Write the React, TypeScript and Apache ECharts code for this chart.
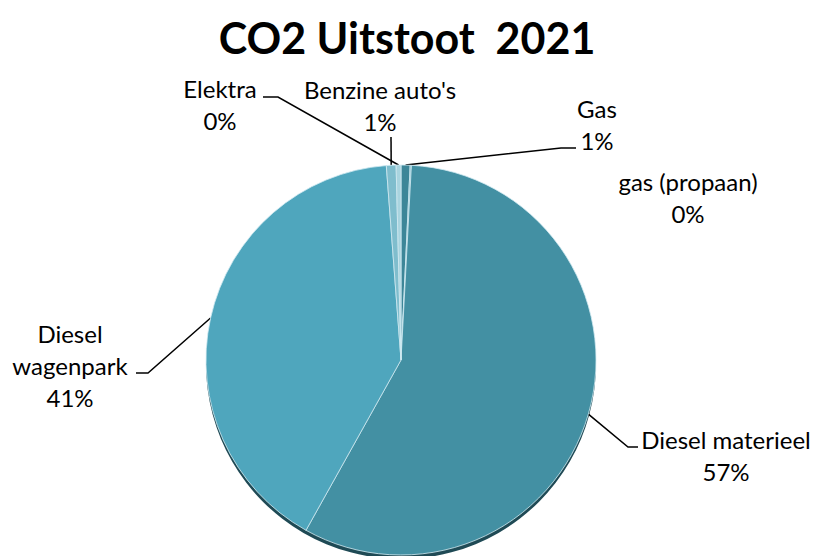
import React, { useEffect, useRef } from "react";
import * as echarts from "echarts";

const titleText = "CO2 Uitstoot  2021";
const categories = ["Gas", "gas (propaan)", "Diesel materieel", "Diesel wagenpark", "Benzine auto's", "Elektra"];
const labelTexts = ["Gas", "gas (propaan)", "Diesel materieel", "Diesel\nwagenpark", "Benzine auto's", "Elektra"];
const values = [0.75, 0.1, 57.25, 40.7, 0.8, 0.4];
const colors = ["#3d8698", "#5fa9bc", "#4390a3", "#4fa6bd", "#7fbdcd", "#a9d4df"];

// label anchor (center x, center y) and elbow points of leader lines
const labelLayouts: Record<number, { x: number; y: number; pts: number[][] | null }> = {
  0: { x: 597, y: 124, pts: [[561, 148], [576, 148]] },
  1: { x: 688, y: 197, pts: null },
  2: { x: 726, y: 455, pts: [[628, 447], [638, 447]] },
  3: { x: 70, y: 365, pts: [[148, 373], [136, 373]] },
  4: { x: 380, y: 105, pts: [[391, 137], [391, 137]] },
  5: { x: 220, y: 104, pts: [[278, 97], [263, 97]] },
};

const FONT = "Lato";

export default function App() {
  const ref = useRef<HTMLDivElement>(null);
  useEffect(() => {
    if (!ref.current) return;
    const chart = echarts.init(ref.current, null, { renderer: "svg" });
    const data = categories.map((c, i) => ({
      name: c,
      value: values[i],
      itemStyle: { color: colors[i] },
      labelLine: { show: labelLayouts[i].pts !== null },
    }));
    chart.setOption({
      animation: false,
      backgroundColor: "#ffffff",
      title: {
        text: titleText,
        left: "center",
        top: 11,
        textStyle: { fontFamily: FONT, fontSize: 43, fontWeight: "bold", color: "#000000" },
      },
      series: [
        {
          type: "pie",
          silent: true,
          center: [401, 364],
          radius: [0, 195],
          startAngle: 90,
          clockwise: true,
          label: { show: false },
          labelLine: { show: false },
          itemStyle: { color: "#1f4a55" },
          data: [{ name: "rim", value: 1 }],
          z: 1,
        },
        {
          type: "pie",
          center: [401, 360],
          radius: [0, 195],
          startAngle: 90,
          clockwise: true,
          percentPrecision: 0,
          avoidLabelOverlap: false,
          itemStyle: { borderColor: "rgba(210,235,242,0.8)", borderWidth: 1 },
          label: {
            show: true,
            position: "outside",
            fontFamily: FONT,
            fontSize: 24,
            lineHeight: 32,
            color: "#000000",
            align: "center",
            formatter: (p: any) => `${labelTexts[p.dataIndex]}\n${p.percent}%`,
          },
          labelLine: { show: true, lineStyle: { color: "#000000", width: 1.5 } },
          labelLayout: (params: any) => {
            const l = labelLayouts[params.dataIndex];
            const start = params.labelLinePoints ? params.labelLinePoints[0] : [0, 0];
            const res: any = { x: l.x, y: l.y, align: "center", verticalAlign: "middle" };
            if (l.pts) res.labelLinePoints = [start, l.pts[0], l.pts[1]];
            return res;
          },
          data,
          z: 2,
        },
      ],
    });
    return () => chart.dispose();
  }, []);
  return <div ref={ref} style={{ position: "fixed", left: 0, top: 0, width: 814, height: 556 }} />;
}
